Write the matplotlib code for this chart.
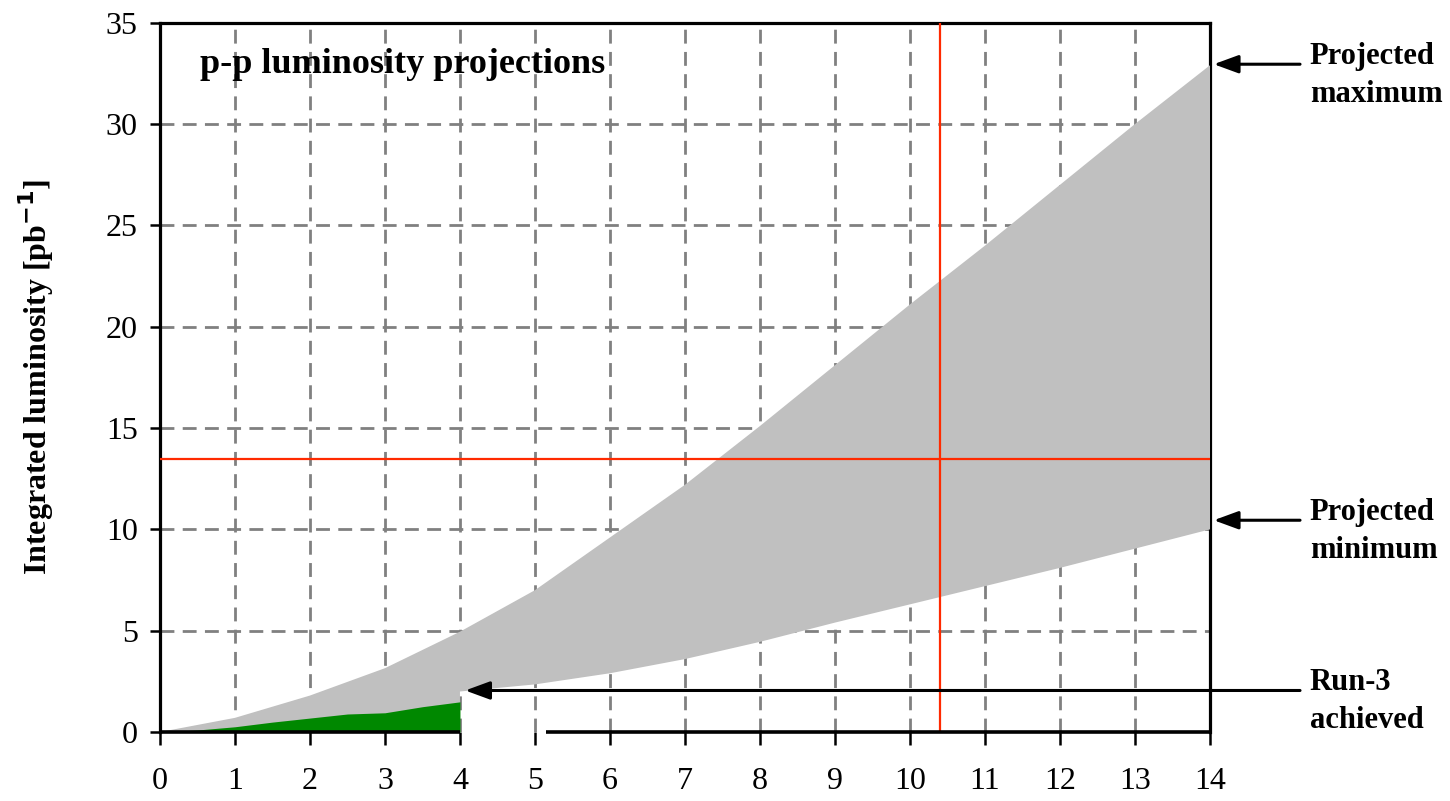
import numpy as np
import matplotlib.pyplot as plt

plt.rcParams['font.family'] = ['Liberation Serif', 'DejaVu Serif']

# integrated luminosity envelope, pb^-1 vs time
x_proj = [0, 1, 2, 3, 4, 5, 6, 7, 8, 9, 10, 11, 12, 13, 14]
lum_max = [0, 0.7, 1.8, 3.15, 4.95, 7.0, 9.6, 12.2, 15.1, 18.1, 21.1, 24.0, 27.0, 30.0, 32.9]
x_min = [4, 5, 6, 7, 8, 9, 10, 11, 12, 13, 14]
lum_min = [2.0, 2.35, 2.9, 3.6, 4.45, 5.4, 6.3, 7.2, 8.1, 9.05, 10.0]

# delivered so far
x_run3 = [0, 0.5, 1, 1.5, 2, 2.5, 3, 3.5, 4]
lum_run3 = [0, 0.1, 0.26, 0.49, 0.69, 0.89, 0.95, 1.25, 1.49]

# reference cross-hair
x_mark = 10.4
y_mark = 13.45

# arrow targets (x, y) and labels
arrows = [
    (14.05, 32.95, "Projected\nmaximum"),
    (14.05, 10.45, "Projected\nminimum"),
    (4.07, 2.05, "Run-3\nachieved"),
]
label_x = 15.33
arrow_tail = 15.2

fig = plt.figure(figsize=(14.5, 8.01), dpi=100)
ax = fig.add_axes([0.1103, 0.0861, 0.7242, 0.8856])

# grey band: from zero up to the max until x=4, then between min and max
poly_x = np.concatenate([x_proj, x_min[::-1], [4, 0]])
poly_y = np.concatenate([lum_max, lum_min[::-1], [0, 0]])
ax.fill(poly_x, poly_y, color='#c0c0c0', lw=0, zorder=3)

ax.fill_between(x_run3, 0, lum_run3, color='#008800', lw=0, zorder=4)

ax.axvline(x_mark, ymin=0, ymax=1, color='#ff2a00', lw=1.6, zorder=5)
ax.hlines(y_mark, 0, 14, color='#ff2a00', lw=1.6, zorder=5)

for ax_x, ax_y, txt in arrows:
    ax.annotate('', xy=(ax_x, ax_y), xytext=(arrow_tail, ax_y),
                arrowprops=dict(arrowstyle='-|>,head_length=1.5,head_width=0.55',
                                color='black', lw=2.2, shrinkA=0, shrinkB=0),
                annotation_clip=False, zorder=6)
    ax.annotate(txt, xy=(label_x, ax_y), xytext=(0, 16), textcoords='offset points',
                ha='left', va='top', fontsize=22, fontweight='bold',
                linespacing=1.4, annotation_clip=False)

ax.text(0.53, 32.5, "p-p luminosity projections", fontsize=26, fontweight='bold',
        ha='left', va='baseline')

ax.set_xlim(0, 14)
ax.set_ylim(0, 35)
ax.set_xticks(range(0, 15))
ax.set_yticks(range(0, 36, 5))

ax.grid(True, color='#808080', lw=2.0, ls=(0, (5, 3)))
ax.set_axisbelow(True)
# no grid line along the baseline
ax.get_ygridlines()[0].set_visible(False)

for s in ['left', 'top', 'right']:
    ax.spines[s].set_linewidth(2.3)
ax.spines['bottom'].set_visible(False)
# broken baseline
ax.hlines(0, 0, 4, color='black', lw=2.6, zorder=6, clip_on=False)
ax.hlines(0, 5.15, 14, color='black', lw=2.6, zorder=6, clip_on=False)

ax.tick_params(axis='x', direction='out', length=9, width=1.8, pad=16, labelsize=23)
ax.tick_params(axis='y', direction='out', length=7, width=1.8, pad=9, labelsize=23)

ax.set_ylabel("Integrated luminosity [pb$^{\\mathbf{-1}}$]", fontsize=23, fontweight='bold')
ax.yaxis.set_label_coords(-0.099, 0.5)

fig.savefig('out.png', dpi=100)
